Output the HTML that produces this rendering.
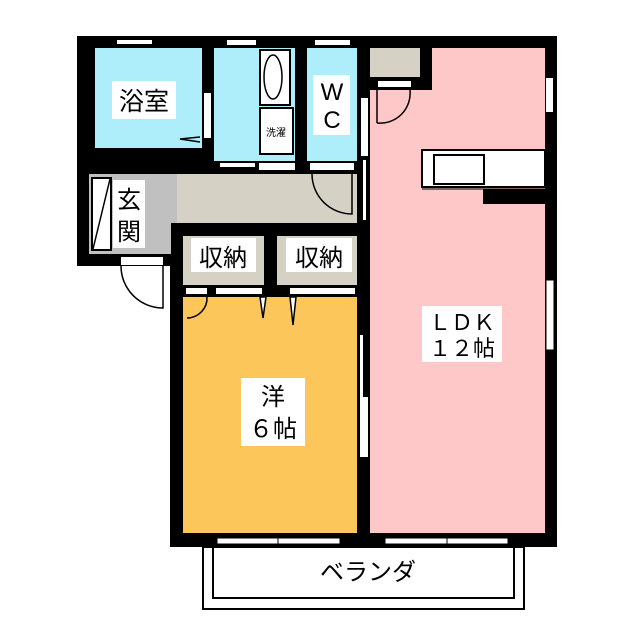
<!DOCTYPE html>
<html><head><meta charset="utf-8"><style>
html,body{margin:0;padding:0;background:#fff;}
svg{display:block}
text{font-family:"Liberation Sans","Noto Sans CJK JP",sans-serif;fill:#000}
</style></head><body>
<svg width="640" height="640" viewBox="0 0 640 640" xmlns="http://www.w3.org/2000/svg">
<!-- outer black masses -->
<rect x="77" y="36" width="480" height="230" fill="#000"/>
<rect x="170" y="220" width="387" height="327" fill="#000"/>
<!-- balcony -->
<rect x="203" y="547" width="321" height="62" fill="none" stroke="#000" stroke-width="2"/>
<rect x="213" y="547" width="301" height="51" fill="none" stroke="#000" stroke-width="2"/>
<!-- bathroom -->
<rect x="95" y="48" width="107" height="100" fill="#aeeefa"/>
<!-- washroom -->
<rect x="214" y="48" width="81" height="113" fill="#aeeefa"/>
<!-- WC -->
<rect x="307" y="48" width="50" height="113" fill="#aeeefa"/>
<!-- hallway -->
<rect x="177" y="174" width="180" height="49" fill="#d5d2c5"/>
<!-- entrance -->
<rect x="89" y="174" width="88" height="80" fill="#c0c0c0"/>
<rect x="171" y="223" width="6" height="31" fill="#000"/>
<!-- storages -->
<rect x="183" y="236" width="81" height="49" fill="#d5d2c5"/>
<rect x="277" y="236" width="80" height="49" fill="#d5d2c5"/>
<!-- western room -->
<rect x="183" y="297" width="174" height="236" fill="#fdc65a"/>
<!-- LDK -->
<rect x="370" y="90" width="175" height="443" fill="#fec8c8"/>
<rect x="432" y="48" width="113" height="42" fill="#fec8c8"/>
<rect x="370" y="48" width="50" height="29" fill="#d5d2c5"/>
<!-- kitchen -->
<rect x="422" y="150" width="123" height="37" fill="#fff" stroke="#000" stroke-width="2"/>
<rect x="434" y="155" width="50" height="29" fill="#fff" stroke="#000" stroke-width="2"/>
<rect x="483" y="189" width="73" height="15" fill="#000"/>
<line x1="422" y1="189" x2="545" y2="189" stroke="#000" stroke-width="1"/>
<!-- windows top -->
<rect x="117" y="40" width="35" height="4" fill="#fff"/>
<rect x="227" y="40" width="29" height="5" fill="#fff"/>
<rect x="315" y="40" width="35" height="5" fill="#fff"/>
<rect x="378" y="81" width="33" height="6" fill="#fff"/>
<rect x="546" y="78" width="7" height="34" fill="#fff"/>
<rect x="546" y="280" width="8" height="70" fill="#fff" stroke="#000" stroke-width="1"/>
<!-- bathroom door -->
<rect x="204" y="93" width="7" height="45" fill="#fff"/>
<polyline points="200,137 180,139 200,142" fill="none" stroke="#000" stroke-width="1.5"/>
<!-- washer / sink fixtures -->
<rect x="260" y="50" width="30" height="55" fill="#fff" stroke="#000" stroke-width="2"/>
<ellipse cx="273" cy="77" rx="9" ry="22" fill="none" stroke="#000" stroke-width="1.5"/>
<rect x="260" y="108" width="33" height="46" fill="#fff" stroke="#000" stroke-width="2"/>
<text x="276" y="136" font-size="10" text-anchor="middle">洗濯</text>
<rect x="220" y="163" width="35" height="4" fill="#fff"/>
<rect x="259" y="163" width="36" height="7" fill="#fff"/>
<rect x="310" y="163" width="44" height="7" fill="#fff"/>
<!-- WC / LDK wall doors -->
<rect x="361" y="98" width="7" height="58" fill="#fff"/>
<rect x="363" y="160" width="3" height="60" fill="#fff"/>
<path d="M312,174 A40,40 0 0 0 352,214 L352,174" fill="none" stroke="#000" stroke-width="1.5"/>
<path d="M377,123 A30,30 0 0 0 410,90" fill="none" stroke="#000" stroke-width="1.5"/>
<line x1="377" y1="90" x2="377" y2="123" stroke="#000" stroke-width="1.5"/>
<!-- entrance shoe box -->
<rect x="92" y="178" width="19" height="72" fill="#fff" stroke="#000" stroke-width="2"/>
<line x1="93" y1="249" x2="110" y2="179" stroke="#000" stroke-width="1.5"/>
<rect x="121" y="257" width="42" height="8" fill="#fff"/>
<path d="M121,266 A42,42 0 0 0 163,308 L163,266" fill="none" stroke="#000" stroke-width="1.5"/>
<!-- storage doors -->
<rect x="186" y="288" width="21" height="6" fill="#fff"/>
<rect x="216" y="288" width="46" height="6" fill="#fff"/>
<rect x="290" y="288" width="65" height="6" fill="#fff"/>
<path d="M187,318 A20,20 0 0 0 207,297" fill="none" stroke="#000" stroke-width="1.5"/>
<polygon points="260,297 266,297 263,318" fill="#fff" stroke="#000" stroke-width="1.5"/>
<polygon points="290,297 296,297 293,325" fill="#fff" stroke="#000" stroke-width="1.5"/>
<!-- western/LDK wall -->
<rect x="360" y="335" width="3" height="62" fill="#fff"/>
<rect x="360" y="397" width="8" height="60" fill="#fff"/>
<!-- bottom windows -->
<rect x="217" y="538" width="123" height="6" fill="#fff" stroke="#000" stroke-width="1"/>
<line x1="278" y1="536" x2="278" y2="546" stroke="#000" stroke-width="1"/>
<rect x="385" y="538" width="123" height="6" fill="#fff" stroke="#000" stroke-width="1"/>
<line x1="447" y1="536" x2="447" y2="546" stroke="#000" stroke-width="1"/>
<!-- labels -->
<rect x="112" y="81" width="64" height="38" fill="#fff"/>
<text x="144" y="110" font-size="25" text-anchor="middle">浴室</text>
<rect x="313" y="75" width="37" height="60" fill="#fff"/>
<text x="332" y="100" font-size="24" text-anchor="middle">W</text>
<text x="332" y="128" font-size="24" text-anchor="middle">C</text>
<rect x="113" y="180" width="32" height="68" fill="#fff"/>
<text x="129" y="208" font-size="24" text-anchor="middle">玄</text>
<text x="129" y="240" font-size="24" text-anchor="middle">関</text>
<rect x="191" y="238" width="65" height="34" fill="#fff"/>
<text x="223" y="266" font-size="24" text-anchor="middle">収納</text>
<rect x="286" y="238" width="66" height="34" fill="#fff"/>
<text x="319" y="266" font-size="24" text-anchor="middle">収納</text>
<rect x="241" y="378" width="64" height="68" fill="#fff"/>
<text x="273" y="405" font-size="24" text-anchor="middle">洋</text>
<text x="273" y="437" font-size="24" text-anchor="middle">６帖</text>
<rect x="422" y="306" width="80" height="56" fill="#fff"/>
<text x="462" y="330" font-size="22" text-anchor="middle">ＬＤＫ</text>
<text x="462" y="356" font-size="22" text-anchor="middle">１２帖</text>
<text x="368" y="580" font-size="24" text-anchor="middle">ベランダ</text>
</svg>
</body></html>
